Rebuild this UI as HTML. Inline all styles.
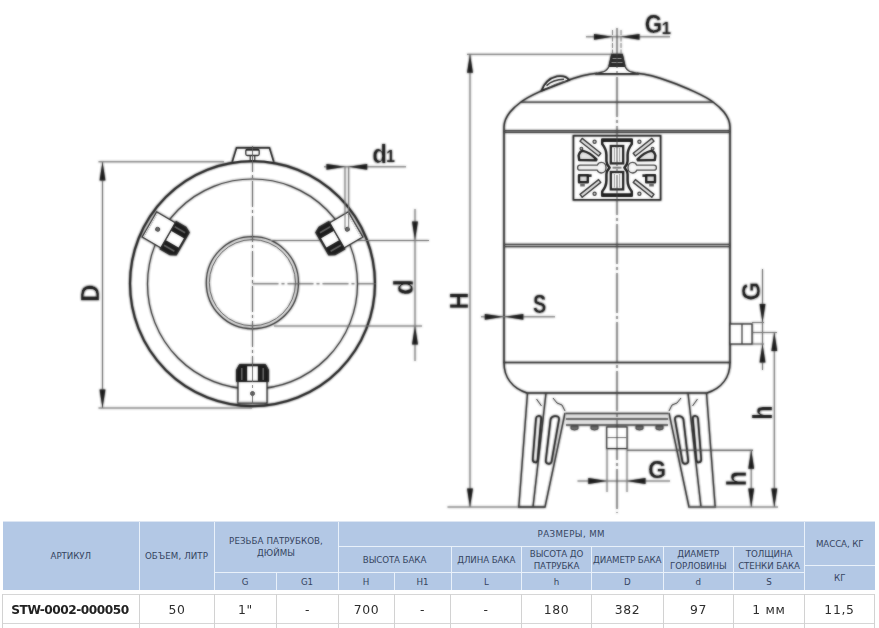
<!DOCTYPE html>
<html lang="ru">
<head>
<meta charset="utf-8">
<title>STW-0002-000050</title>
<style>
html,body{margin:0;padding:0;background:#fff;}
body{width:879px;height:628px;position:relative;overflow:hidden;font-family:"Liberation Sans",sans-serif;}
#draw{position:absolute;left:0;top:0;width:879px;height:628px;}
#draw text{font-family:"Liberation Sans",sans-serif;font-weight:bold;fill:#1a1a1a;}
.tbl{position:absolute;left:0;top:0;width:879px;height:628px;}
.c{position:absolute;background:#b3c8e5;color:#35445f;font-family:"DejaVu Sans","Liberation Sans",sans-serif;font-size:8.7px;line-height:11.75px;padding-top:2.5px;box-sizing:border-box;text-align:center;display:flex;align-items:center;justify-content:center;white-space:nowrap;letter-spacing:-0.1px;}
.c span{display:inline-block;}
.d span{display:inline-block;}
.d{position:absolute;color:#2e2e2e;font-family:"DejaVu Sans","Liberation Sans",sans-serif;font-size:12.4px;line-height:16px;text-align:center;display:flex;align-items:center;justify-content:center;white-space:nowrap;top:596px;height:27px;letter-spacing:0.7px;}
.d b{color:#222;font-weight:bold;font-size:12.2px;letter-spacing:-0.5px;position:relative;left:-1px;}
.vl{position:absolute;top:594px;width:1px;height:34px;background:#d2d2d2;}
.hb{position:absolute;left:3px;top:521.5px;width:871.5px;height:68.5px;background:#e9f1fa;}
.hl{position:absolute;left:3px;width:872px;height:1px;background:#d6d6d6;}
</style>
</head>
<body>
<svg id="draw" width="879" height="628" viewBox="0 0 879 628">
<defs>
<g id="bolt">
  <path d="M-16,97.5 L-16,86 L-13,80.5 L13,80.5 L16,86 L16,97.5 Z" fill="#1c1c1c" stroke="#1c1c1c" stroke-width="1" stroke-linejoin="round"/>
  <rect x="-5.3" y="82.3" width="10.6" height="14.5" fill="#fff" stroke="none"/>
  <rect x="-11.5" y="84" width="1.6" height="12" fill="#666" stroke="none"/>
  <rect x="9.9" y="84" width="1.6" height="12" fill="#666" stroke="none"/>
  <rect x="-14.5" y="97.5" width="29" height="21.5" fill="#fff" stroke="#222" stroke-width="1.3"/>
  <line x1="-14" y1="117.6" x2="14" y2="117.6" stroke="#bbb" stroke-width="1.6" stroke-dasharray="1 1"/>
  <circle cx="0" cy="109.5" r="2" fill="#666" stroke="#333" stroke-width="0.9"/>
</g>
<path id="arr" d="M0,0 L-18.5,-2.9 L-18.5,2.9 Z" fill="#1a1a1a"/>
</defs>
<g style="filter:blur(1px)"><g id="all">
<g id="topview" fill="none" stroke="#2a2a2a" stroke-width="1.1">
  <!-- top bracket -->
  <path d="M232.3,161.8 L236.6,147.8 L269.4,147.8 L273.7,161.8" stroke-width="1.7" stroke="#1c1c1c" fill="#fff"/>
  <rect x="245.8" y="149.3" width="13.4" height="6.2" rx="1.5" stroke-width="1.3" stroke="#222"/>
  <line x1="246" y1="150" x2="259" y2="150" stroke-width="1.4" stroke="#222"/>
  <path d="M250.2,156 L250.2,160.5 M254.8,156 L254.8,160.5" stroke-width="1.2" stroke="#222"/>
  <!-- circles -->
  <circle cx="252.5" cy="283.6" r="122.5" stroke="#1c1c1c" stroke-width="2.1"/>
  <circle cx="252.5" cy="284" r="105" stroke-width="1.2"/>
  <circle cx="252.4" cy="282.7" r="46.1" stroke-width="1.25"/>
  <circle cx="252.4" cy="282.7" r="43.1" stroke-width="1" stroke="#484848"/>
  <line x1="270" y1="240.5" x2="429" y2="240.5" stroke-width="1" stroke="#6c6c6c"/>
  <line x1="274" y1="326" x2="422" y2="326" stroke-width="1" stroke="#6c6c6c"/>
  <!-- bolts -->
  <g transform="translate(252.5,284)">
    <use href="#bolt"/>
    <use href="#bolt" transform="rotate(120)"/>
    <use href="#bolt" transform="rotate(-120)"/>
  </g>
  <!-- centre lines -->
  <line x1="252.5" y1="146" x2="252.5" y2="404" stroke-width="0.9" stroke="#555" stroke-dasharray="26 3 3 3"/>
  <line x1="252.5" y1="283.8" x2="376" y2="283.8" stroke-width="0.9" stroke="#555" stroke-dasharray="26 3 3 3"/>
  <!-- D dimension -->
  <line x1="98.5" y1="161.8" x2="224" y2="161.8" stroke-width="1" stroke="#6c6c6c"/>
  <line x1="98.5" y1="408" x2="252" y2="408" stroke-width="1" stroke="#6c6c6c"/>
  <line x1="102.5" y1="162" x2="102.5" y2="408" stroke-width="1" stroke="#6c6c6c"/>
  <use href="#arr" transform="translate(102.5,162) rotate(-90)" stroke="none"/>
  <use href="#arr" transform="translate(102.5,408) rotate(90)" stroke="none"/>
  <text transform="translate(98.80,301.74) rotate(-90) scale(0.950,1.026)" font-size="25" stroke="#fff" stroke-width="0.2">D</text>
  <!-- d1 dimension -->
  <line x1="324" y1="166.8" x2="406" y2="166.8" stroke-width="1" stroke="#6c6c6c"/>
  <line x1="345" y1="166" x2="345" y2="229" stroke-width="1" stroke="#6c6c6c"/>
  <line x1="348.7" y1="166" x2="348.7" y2="229" stroke-width="1" stroke="#6c6c6c"/>
  <use href="#arr" transform="translate(345,166.8)" stroke="none"/>
  <use href="#arr" transform="translate(348.7,166.8) rotate(180)" stroke="none"/>
  <text transform="translate(372.23,162.54) scale(0.966,1.039)" font-size="25" stroke="#fff" stroke-width="0.2">d</text><text transform="translate(385.90,162.40) scale(0.649,0.623)" font-size="25" font-family="Liberation Serif" stroke="#fff" stroke-width="0.2">1</text>
  <!-- d dimension -->
  <line x1="415" y1="209" x2="415" y2="361" stroke-width="1" stroke="#6c6c6c"/>
  <use href="#arr" transform="translate(415,240) rotate(90)" stroke="none"/>
  <use href="#arr" transform="translate(415,326) rotate(-90)" stroke="none"/>
  <text transform="translate(413.32,294.80) rotate(-90) scale(0.998,1.110)" font-size="25" stroke="#fff" stroke-width="0.2">d</text>
</g>

<g id="tank" fill="none" stroke="#2a2a2a" stroke-width="1.1">
  <!-- H dimension -->
  <line x1="467" y1="54.3" x2="612" y2="54.3" stroke-width="1" stroke="#6c6c6c"/>
  <line x1="470" y1="54" x2="470" y2="507" stroke-width="1" stroke="#6c6c6c"/>
  <line x1="447.5" y1="507" x2="545" y2="507" stroke-width="1" stroke="#6c6c6c"/>
  <use href="#arr" transform="translate(470,54.3) rotate(-90)" stroke="none"/>
  <use href="#arr" transform="translate(470,507) rotate(90)" stroke="none"/>
  <text transform="translate(467.90,308.89) rotate(-90) scale(0.915,1.003)" font-size="25" stroke="#fff" stroke-width="0.2">H</text>
  <!-- body -->
  <g id="half">
    <path d="M504,363 L504,127 C504,121 506.5,116.5 510.1,112 C513,108.4 516.5,105.3 521,102 C526.5,98 532.5,95 539.3,91.9 C546,88.9 553.5,85.5 561.1,82.8 C568,80.3 575,77.8 582.4,75.8 C587.5,74.5 592,73.7 597,73.2" stroke="#1c1c1c" stroke-width="1.5"/>
    <path d="M504,362.5 C504,377 512,388 527,393 L617,393" stroke="#1c1c1c" stroke-width="1.5"/>
    <line x1="521" y1="102.1" x2="617" y2="102.1" stroke-width="1.4"/>
    <path d="M504,130.6 H617 M504,132.4 H617" stroke-width="1.1" stroke="#3a3a3a"/>
    <path d="M504,244.4 H617 M504,246.6 H617" stroke-width="1.15" stroke="#3a3a3a"/>
    <line x1="504" y1="362.5" x2="617" y2="362.5" stroke-width="1.3"/>
    <!-- leg -->
    <path d="M527.5,393 L518.8,507 L545,507 L565,413" stroke-width="1.4"/>
    <path d="M546,393 L533,507" stroke-width="1.4"/>
    <path d="M536.5,399 L541.5,406 M553,398 L557,403 L562,405 L565,411" stroke-width="1"/>
    <path d="M538.2,416 q3,-0.4 3,2.4 L537.6,460 q-0.4,2.8 -3,2.2 q-2,-0.4 -1.8,-3.2 L536,418.6 q0.2,-2.2 2.2,-2.6 Z" stroke-width="1.7" stroke="#1c1c1c"/>
    <path d="M554.5,416.2 q4.6,-0.6 4.6,3 L551.6,461.5 q-0.8,2.8 -3.6,2.2 q-2.6,-0.6 -2.2,-3.4 L550.6,419.2 q0.8,-2.6 3.9,-3 Z" stroke-width="1.7" stroke="#1c1c1c"/>
    <!-- flange -->
    <rect x="565.5" y="413.5" width="51.5" height="11.5" fill="#d8d8d8" stroke="none" opacity="0.6"/>
    <path d="M565.5,413.5 L617,413.5 M566,419 L617,419 M566,425 L617,425" stroke-width="1.5" stroke="#444"/>
        <path d="M571,426 h7 v3 q-3.5,2 -7,0 Z M591,426 h7 v3 q-3.5,2 -7,0 Z" fill="#666" stroke="#333" stroke-width="0.8"/>
  </g>
  <use href="#half" transform="translate(1234,0) scale(-1,1)"/>
  <!-- top nipple -->
  <path d="M596,73.6 L603,72 C606,70.8 608,69 609,66.5 L611.8,54.5 L622.2,54.5 L625,66.5 C626,69 628,70.8 631,72 L638,73.6 Z" fill="#fff" stroke-width="1.3"/>
  <path d="M611.8,54.5 L622.2,54.5 L625,66.5 L609,66.5 Z" fill="#2a2a2a" stroke="#1c1c1c" stroke-width="1"/>
  <path d="M612.5,58.5 h9 M611.5,62.5 h11" stroke-width="1" stroke="#999"/>
  <path d="M595,74 h44" stroke-width="1.6" stroke="#222"/>
  <line x1="612.5" y1="30" x2="612.5" y2="54" stroke-width="0.9" stroke="#777" stroke-dasharray="5 1.5"/>
  <line x1="621" y1="30" x2="621" y2="54" stroke-width="0.9" stroke="#777" stroke-dasharray="5 1.5"/>
  <!-- small valve on dome -->
  <path d="M541.6,90.6 C544,83.5 550,78 557,76.3 C562.5,75.5 567,76.8 569,80 Z" stroke-width="1.8" stroke="#1c1c1c" fill="#fff"/>
  <path d="M546.5,85.6 C551,81.4 557,79.4 564,79.2" stroke-width="1.6" stroke="#2a2a2a"/>
  <path d="M549,87.4 C554,84.5 559,82.6 565.5,81.2" stroke-width="0.9" stroke="#555"/>
  <!-- centre line -->
  <!-- G1 -->
  <line x1="586" y1="36.8" x2="670" y2="36.8" stroke-width="1" stroke="#6c6c6c"/>
  <use href="#arr" transform="translate(612.5,36.8)" stroke="none"/>
  <use href="#arr" transform="translate(621,36.8) rotate(180)" stroke="none"/>
  <text transform="translate(644.70,33.24) scale(0.901,1.054)" font-size="25" stroke="#fff" stroke-width="0.2">G</text><text transform="translate(661.62,33.50) scale(0.692,0.623)" font-size="25" font-family="Liberation Serif" stroke="#fff" stroke-width="0.2">1</text>
  <!-- S -->
  <line x1="481" y1="316.8" x2="555" y2="316.8" stroke-width="1" stroke="#6c6c6c"/>
  <use href="#arr" transform="translate(503.3,316.8)" stroke="none"/>
  <use href="#arr" transform="translate(504.8,316.8) rotate(180)" stroke="none"/>
  <text transform="translate(533.11,312.54) scale(0.793,1.054)" font-size="25" stroke="#fff" stroke-width="0.2">S</text>
  <!-- side nipple -->
  <rect x="730" y="324" width="22" height="20" fill="#fff" stroke-width="1.3"/>
  <line x1="742" y1="324" x2="742" y2="344" stroke-width="1.2"/>
  <path d="M752,322.5 H764 M752,344 H764 M752,332.5 H777" stroke-width="0.8" stroke="#555"/>
  <line x1="762.5" y1="269" x2="762.5" y2="370" stroke-width="1" stroke="#6c6c6c"/>
  <use href="#arr" transform="translate(762.5,322.5) rotate(90)" stroke="none"/>
  <use href="#arr" transform="translate(762.5,344) rotate(-90)" stroke="none"/>
  <text transform="translate(760.34,300.45) rotate(-90) scale(0.948,1.037)" font-size="25" stroke="#fff" stroke-width="0.2">G</text>
  <!-- big h -->
  <line x1="774.3" y1="332.5" x2="774.3" y2="507" stroke-width="1" stroke="#6c6c6c"/>
  <use href="#arr" transform="translate(774.3,332.5) rotate(-90)" stroke="none"/>
  <use href="#arr" transform="translate(774.3,507) rotate(90)" stroke="none"/>
  <text transform="translate(771.70,419.73) rotate(-90) scale(0.933,1.076)" font-size="25" stroke="#fff" stroke-width="0.2">h</text>
  <line x1="689" y1="507" x2="778" y2="507" stroke-width="1" stroke="#6c6c6c"/>
  <!-- bottom nipple -->
  <rect x="606.8" y="427" width="20.2" height="21.5" fill="#fff" stroke-width="1.2"/>
  <line x1="607" y1="437.6" x2="627" y2="437.6" stroke-width="1" stroke="#6c6c6c"/>
  <line x1="607" y1="448" x2="607" y2="492" stroke-width="0.8" stroke="#555"/>
  <line x1="627" y1="448" x2="627" y2="492" stroke-width="0.8" stroke="#555"/>
  <line x1="627" y1="450.2" x2="753" y2="450.2" stroke-width="1" stroke="#444"/>
  <line x1="577.5" y1="481" x2="670" y2="481" stroke-width="1" stroke="#6c6c6c"/>
  <use href="#arr" transform="translate(606.8,481)" stroke="none"/>
  <use href="#arr" transform="translate(627,481) rotate(180)" stroke="none"/>
  <text transform="translate(647.96,477.95) scale(0.942,0.986)" font-size="25" stroke="#fff" stroke-width="0.2">G</text>
  <!-- small h -->
  <line x1="751.2" y1="450.2" x2="751.2" y2="507" stroke-width="1" stroke="#6c6c6c"/>
  <use href="#arr" transform="translate(751.2,450.2) rotate(-90)" stroke="none"/>
  <use href="#arr" transform="translate(751.2,507) rotate(90)" stroke="none"/>
  <text transform="translate(745.60,486.59) rotate(-90) scale(1.025,1.087)" font-size="25" stroke="#fff" stroke-width="0.2">h</text>
  <!-- label plate -->
  <g id="plate">
    <rect x="573.5" y="135.8" width="87" height="64" fill="#fff" stroke="#1c1c1c" stroke-width="1.7"/>
    <g id="pq">
      <path d="M582.2,138.4 L600.8,153.2 L598.6,156 L580,141.2 Z" stroke="#2a2a2a" stroke-width="1.4" stroke-linejoin="round" fill="#e8e8e8"/>
      <circle cx="594.6" cy="141.8" r="1.6" stroke="#333" stroke-width="1.2" fill="#ccc"/>
    </g>
    <use href="#pq" transform="translate(1234,0) scale(-1,1)"/>
    <use href="#pq" transform="translate(0,335.6) scale(1,-1)"/>
    <use href="#pq" transform="translate(1234,335.6) scale(-1,-1)"/>
    <g id="ph">
      <path d="M579.2,160 L578.6,155.5 C579.5,152.5 581,151 583,150.8 C587.5,151.8 592,154.6 596.5,159.4 L596,160.4 Z" stroke="#1c1c1c" stroke-width="2.4" stroke-linejoin="round" fill="#e4e4e4"/>
      <circle cx="581.4" cy="148.6" r="1.4" stroke="#333" stroke-width="1.1" fill="#aaa"/>
      <path d="M580,165.2 L597.2,165.2 C598.2,163.2 599.8,162.4 601.4,162.4 C604.3,162.4 606,164.8 606,167.7 C606,170.6 604.3,173 601.4,173 C599.8,173 598.2,172.2 597.2,170.2 L580,170.2 C578.2,170.2 577.6,168.9 577.6,167.7 C577.6,166.5 578.2,165.2 580,165.2 Z" stroke="#3a3a3a" stroke-width="1.3" fill="#f6f6f6"/>
      <path d="M579,175.2 h8.8 v7 h-8.8 Z" stroke="#1c1c1c" stroke-width="2.4" stroke-linejoin="round" fill="#ddd"/>
      <path d="M588,175.6 h3.6" stroke="#1c1c1c" stroke-width="2.6"/>
      <path d="M580.2,185.2 h4.6" stroke="#666" stroke-width="2.6"/>
    </g>
    <use href="#ph" transform="translate(1234,0) scale(-1,1)"/>
    <!-- central spool -->
    <path d="M602.2,139.6 L631.8,139.6 L631.8,144 C629.4,147 627.6,151 627.6,155 L627.6,161 C627.6,163.5 626,166 624.4,167.7 C626,169.4 627.6,172 627.6,174.5 L627.6,180.5 C627.6,184.5 629.4,188.5 631.8,191.5 L631.8,195.8 L602.2,195.8 L602.2,191.5 C604.6,188.5 606.4,184.5 606.4,180.5 L606.4,174.5 C606.4,172 608,169.4 609.6,167.7 C608,166 606.4,163.5 606.4,161 L606.4,155 C606.4,151 604.6,147 602.2,144 Z" stroke="#1c1c1c" stroke-width="2.5" stroke-linejoin="round" fill="#fff"/>
    <path d="M603,141 h28 M603,194.4 h28" stroke="#1c1c1c" stroke-width="2.2"/>
    <rect x="610.8" y="146" width="12.4" height="17.4" stroke="#1c1c1c" stroke-width="2.3" fill="#fff"/>
    <rect x="610.8" y="172" width="12.4" height="17.4" stroke="#1c1c1c" stroke-width="2.3" fill="#fff"/>
    <path d="M614.4,148 v13.5 M619.6,148 v13.5 M614.4,174 v13.5 M619.6,174 v13.5" stroke="#999" stroke-width="1"/>
    <path d="M612.5,167.7 h9" stroke="#777" stroke-width="2"/>
  </g>
  <line x1="617" y1="28" x2="617" y2="513" stroke-width="0.9" stroke="#3a3a3a" stroke-dasharray="40 3 3 3"/>
</g>
</g>

</g></g>
<use href="#all" opacity="0.55"/>
</svg>
<div class="tbl">
  <div class="hb"></div>
  <div style="position:absolute;left:3px;top:521px;width:872px;height:1px;background:rgba(179,200,229,0.45);"></div>
  <div class="c" style="left:3px;top:521.5px;width:135.5px;height:68.5px;"><span>АРТИКУЛ</span></div>
  <div class="c" style="left:139.5px;top:521.5px;width:74px;height:68.5px;letter-spacing:0.1px;"><span>ОБЪЕМ, ЛИТР</span></div>
  <div class="c" style="left:214.5px;top:521.5px;width:123px;height:50px;letter-spacing:0.05px;"><span>РЕЗЬБА ПАТРУБКОВ,<br>ДЮЙМЫ</span></div>
  <div class="c" style="left:214.5px;top:572.5px;width:61px;height:17.5px;"><span>G</span></div>
  <div class="c" style="left:276.5px;top:572.5px;width:61px;height:17.5px;"><span>G1</span></div>
  <div class="c" style="left:338.5px;top:521.5px;width:465.5px;height:24.5px;letter-spacing:0.38px;"><span>РАЗМЕРЫ, ММ</span></div>
  <div class="c" style="left:338.5px;top:547px;width:112px;height:24.5px;"><span>ВЫСОТА БАКА</span></div>
  <div class="c" style="left:338.5px;top:572.5px;width:55px;height:17.5px;"><span>H</span></div>
  <div class="c" style="left:394.5px;top:572.5px;width:56px;height:17.5px;"><span>H1</span></div>
  <div class="c" style="left:451.5px;top:547px;width:69.5px;height:24.5px;"><span>ДЛИНА БАКА</span></div>
  <div class="c" style="left:451.5px;top:572.5px;width:69.5px;height:17.5px;"><span>L</span></div>
  <div class="c" style="left:522px;top:547px;width:69px;height:24.5px;"><span>ВЫСОТА ДО<br>ПАТРУБКА</span></div>
  <div class="c" style="left:522px;top:572.5px;width:69px;height:17.5px;"><span>h</span></div>
  <div class="c" style="left:592px;top:547px;width:70.5px;height:24.5px;"><span>ДИАМЕТР БАКА</span></div>
  <div class="c" style="left:592px;top:572.5px;width:70.5px;height:17.5px;"><span>D</span></div>
  <div class="c" style="left:663.5px;top:547px;width:69.5px;height:24.5px;"><span>ДИАМЕТР<br>ГОРЛОВИНЫ</span></div>
  <div class="c" style="left:663.5px;top:572.5px;width:69.5px;height:17.5px;"><span>d</span></div>
  <div class="c" style="left:734px;top:547px;width:70px;height:24.5px;"><span>ТОЛЩИНА<br>СТЕНКИ БАКА</span></div>
  <div class="c" style="left:734px;top:572.5px;width:70px;height:17.5px;"><span>S</span></div>
  <div class="c" style="left:805px;top:521.5px;width:69.5px;height:43.5px;"><span>МАССА, КГ</span></div>
  <div class="c" style="left:805px;top:566px;width:69.5px;height:24px;"><span>КГ</span></div>

  <div class="hl" style="top:594px;"></div>
  <div class="hl" style="top:622.6px;"></div>
  <div class="vl" style="left:2px;"></div>
  <div class="vl" style="left:139px;"></div>
  <div class="vl" style="left:214px;"></div>
  <div class="vl" style="left:276px;"></div>
  <div class="vl" style="left:338px;"></div>
  <div class="vl" style="left:394px;"></div>
  <div class="vl" style="left:450px;"></div>
  <div class="vl" style="left:521px;"></div>
  <div class="vl" style="left:591px;"></div>
  <div class="vl" style="left:663px;"></div>
  <div class="vl" style="left:733px;"></div>
  <div class="vl" style="left:804px;"></div>
  <div class="vl" style="left:874px;"></div>

  <div class="d" style="left:3px;width:136px;"><span><b>STW-0002-000050</b></span></div>
  <div class="d" style="left:140px;width:74px;"><span>50</span></div>
  <div class="d" style="left:215px;width:61px;"><span>1"</span></div>
  <div class="d" style="left:277px;width:61px;"><span>-</span></div>
  <div class="d" style="left:339px;width:55px;"><span>700</span></div>
  <div class="d" style="left:395px;width:55px;"><span>-</span></div>
  <div class="d" style="left:451px;width:70px;"><span>-</span></div>
  <div class="d" style="left:522px;width:69px;"><span>180</span></div>
  <div class="d" style="left:592px;width:71px;"><span>382</span></div>
  <div class="d" style="left:664px;width:69px;"><span>97</span></div>
  <div class="d" style="left:734px;width:70px;"><span>1 мм</span></div>
  <div class="d" style="left:805px;width:69px;"><span>11,5</span></div>
</div>

</body>
</html>
